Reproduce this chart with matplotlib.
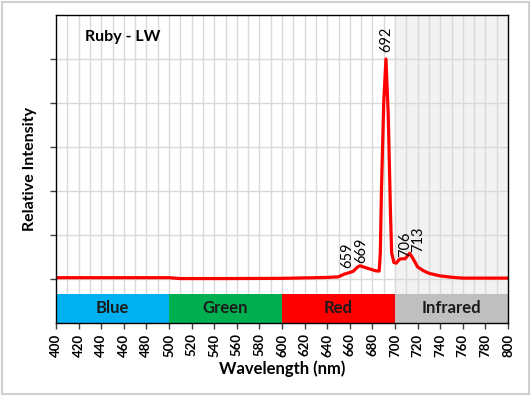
import matplotlib
matplotlib.use("Agg")
import matplotlib.pyplot as plt
from matplotlib.patches import Rectangle

plt.rcParams['font.family'] = ['Lato', 'DejaVu Sans']

wavelength = [400, 450, 500, 510, 550, 600, 620, 640, 650, 655, 659, 663, 667, 669, 672,
              678, 683, 686, 687, 688, 690, 692, 694, 696, 697, 699, 701, 704, 706, 709,
              711, 713, 716, 720, 725, 730, 740, 750, 760, 800]
intensity = [0.006, 0.006, 0.006, 0.002, 0.002, 0.003, 0.005, 0.007, 0.010, 0.022, 0.028, 0.035,
             0.055, 0.060, 0.055, 0.045, 0.037, 0.036, 0.12, 0.40, 0.80, 1.00, 0.75, 0.30,
             0.12, 0.075, 0.072, 0.090, 0.092, 0.092, 0.105, 0.117, 0.092, 0.055, 0.038,
             0.026, 0.014, 0.008, 0.004, 0.004]

peak_labels = [659, 669, 692, 706, 713]
peak_label_x = [657.5, 670.5, 692, 709.5, 721]
peak_label_y = [0.05, 0.073, 1.03, 0.10, 0.123]

bands = ["Blue", "Green", "Red", "Infrared"]
band_starts = [400, 500, 600, 700]
band_ends = [500, 600, 700, 800]
band_colors = ["#00b0f0", "#00b050", "#ff0000", "#bfbfbf"]

title_text = "Ruby - LW"

fig = plt.figure(figsize=(5.31, 3.96), dpi=100)
ax = fig.add_axes([56/531, 1-323/396, (508-56)/531, (323-15)/396])

ax.set_xlim(400, 800)
ax.set_ylim(-0.2, 1.2)

# infrared shaded background
ax.axvspan(700, 800, ymin=0, ymax=1, color="#f2f2f2", zorder=0)

# grid
for xv in range(410, 800, 10):
    ax.axvline(xv, color="#d9d9d9", lw=1.0, zorder=1)
for yv in [0.0, 0.2, 0.4, 0.6, 0.8, 1.0]:
    ax.axhline(yv, color="#d9d9d9", lw=1.0, zorder=1)

# color bands
band_bottom, band_top = -0.2, -0.068
for name, s, e, c in zip(bands, band_starts, band_ends, band_colors):
    ax.add_patch(Rectangle((s, band_bottom), e - s, band_top - band_bottom,
                           facecolor=c, edgecolor="none", zorder=3))
    ax.text((s + e) / 2, (band_bottom + band_top) / 2, name, ha="center", va="center",
            fontsize=12, fontweight="bold", color="#1a1a1a", zorder=4)

ax.plot(wavelength, intensity, color="#ff0000", lw=2.3, zorder=5, solid_joinstyle="round")

for p, xl, yl in zip(peak_labels, peak_label_x, peak_label_y):
    ax.text(xl, yl, str(p), rotation=90, ha="center", va="bottom", fontsize=10.5, zorder=6)

ax.text(0.065, 0.93, title_text, transform=ax.transAxes, fontsize=11.5, fontweight="bold",
        ha="left", va="center")

ax.set_xticks(list(range(400, 801, 20)))
ax.set_xticklabels([str(v) for v in range(400, 801, 20)], rotation=90, fontsize=9.5,
                   fontweight="bold")
ax.set_yticks([0.0, 0.2, 0.4, 0.6, 0.8, 1.0])
ax.set_yticklabels([])
ax.tick_params(axis="both", direction="out", length=4, width=1, color="#404040")

for sp in ax.spines.values():
    sp.set_color("#000000")
    sp.set_linewidth(1.0)
    sp.set_zorder(7)

ax.set_xlabel("Wavelength (nm)", fontsize=12, fontweight="bold", labelpad=3)
ax.set_ylabel("Relative Intensity", fontsize=11.5, fontweight="bold", labelpad=6)

fig.patches.append(Rectangle((0.003, 0.004), 0.994, 0.992, transform=fig.transFigure,
                             fill=False, edgecolor="#d0d0d0", lw=1.5))

fig.savefig("out.png", dpi=100)
